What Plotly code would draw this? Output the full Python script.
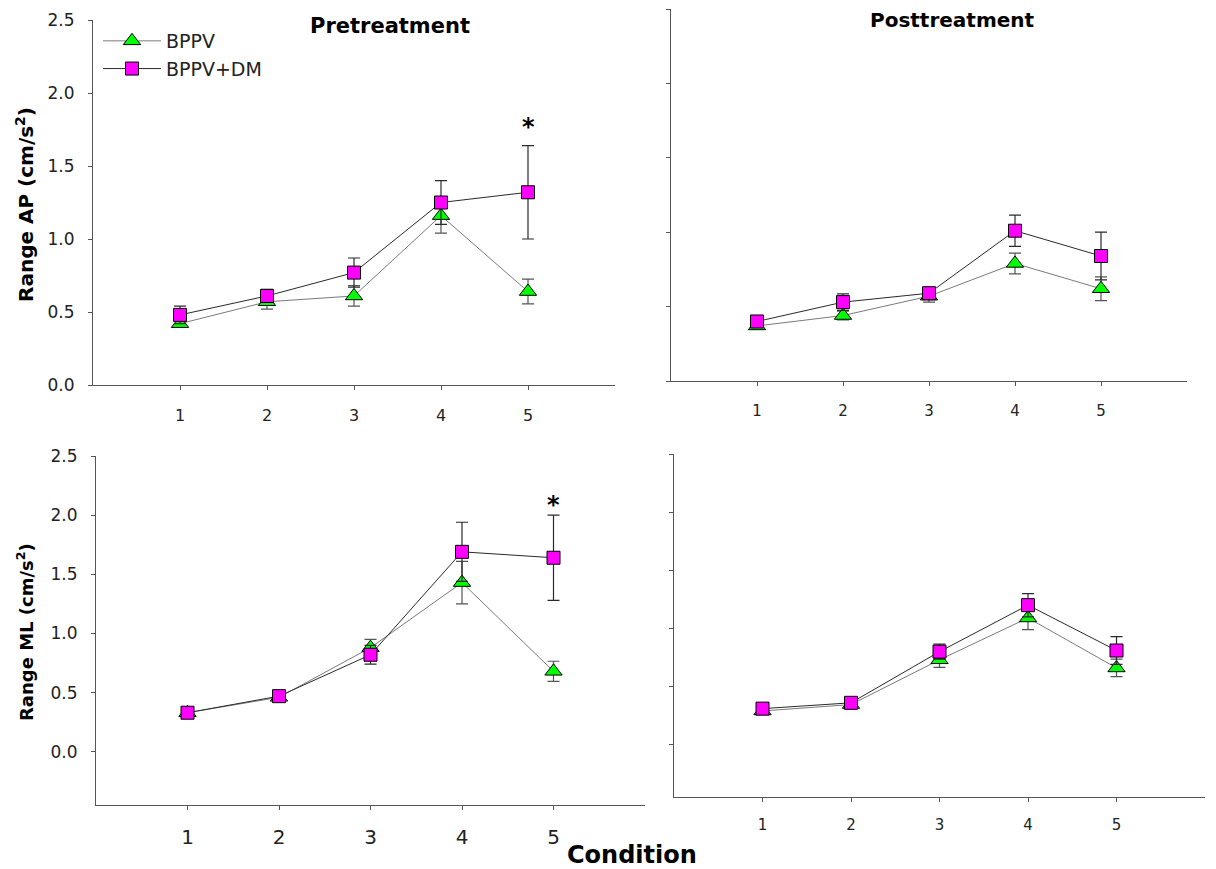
import plotly.graph_objects as go

conditions = [1, 2, 3, 4, 5]

pre_ap_bppv = [0.42, 0.57, 0.61, 1.16, 0.64]
pre_ap_bppv_err = [0.02, 0.05, 0.07, 0.12, 0.085]
pre_ap_dm = [0.48, 0.61, 0.77, 1.25, 1.32]
pre_ap_dm_err = [0.06, 0.045, 0.10, 0.15, 0.32]

post_ap_bppv = [0.37, 0.44, 0.57, 0.79, 0.62]
post_ap_bppv_err = [0.02, 0.03, 0.04, 0.07, 0.08]
post_ap_dm = [0.40, 0.53, 0.59, 1.01, 0.84]
post_ap_dm_err = [0.03, 0.055, 0.03, 0.105, 0.16]

pre_ml_bppv = [0.33, 0.46, 0.88, 1.43, 0.68]
pre_ml_bppv_err = [0.03, 0.03, 0.07, 0.18, 0.085]
pre_ml_dm = [0.33, 0.47, 0.82, 1.69, 1.64]
pre_ml_dm_err = [0.02, 0.04, 0.08, 0.25, 0.36]

post_ml_bppv = [0.29, 0.345, 0.73, 1.09, 0.66]
post_ml_bppv_err = [0.02, 0.02, 0.065, 0.10, 0.075]
post_ml_dm = [0.31, 0.36, 0.80, 1.20, 0.81]
post_ml_dm_err = [0.02, 0.02, 0.065, 0.10, 0.12]

y_ticks = [0.0, 0.5, 1.0, 1.5, 2.0, 2.5]
y_tick_labels = ["0.0", "0.5", "1.0", "1.5", "2.0", "2.5"]

W, H = 1216, 869
FONT = "DejaVu Sans, Liberation Sans, Arial, sans-serif"


def px_x(p):
    return p / W


def px_y(p):
    return 1 - p / H


fig = go.Figure()

panels = [
    ("x", "y", pre_ap_bppv, pre_ap_bppv_err, pre_ap_dm, pre_ap_dm_err, True),
    ("x2", "y2", post_ap_bppv, post_ap_bppv_err, post_ap_dm, post_ap_dm_err, False),
    ("x3", "y3", pre_ml_bppv, pre_ml_bppv_err, pre_ml_dm, pre_ml_dm_err, False),
    ("x4", "y4", post_ml_bppv, post_ml_bppv_err, post_ml_dm, post_ml_dm_err, False),
]

for xa, ya, b, be, d, de, show in panels:
    fig.add_trace(go.Scatter(
        x=conditions, y=b, xaxis=xa, yaxis=ya, name="BPPV", mode="lines+markers",
        line=dict(color="#7a7a7a", width=1),
        marker=dict(symbol="triangle-up", size=15, color="#00ff00",
                    line=dict(color="black", width=1)),
        error_y=dict(type="data", array=be, visible=True, color="#555555",
                     thickness=1.2, width=6),
        showlegend=show, legendrank=1,
    ))
    fig.add_trace(go.Scatter(
        x=conditions, y=d, xaxis=xa, yaxis=ya, name="BPPV+DM", mode="lines+markers",
        line=dict(color="#2a2a2a", width=1),
        marker=dict(symbol="square", size=13, color="#ff00ff",
                    line=dict(color="black", width=1)),
        error_y=dict(type="data", array=de, visible=True, color="#2a2a2a",
                     thickness=1.2, width=6),
        showlegend=show, legendrank=2,
    ))

axis_common = dict(showgrid=False, zeroline=False, showline=True, linecolor="#555555",
                   linewidth=1, ticks="outside", ticklen=4, tickcolor="#555555",
                   mirror=False, automargin=False)

layout = dict(
    width=W, height=H, margin=dict(l=0, r=0, t=0, b=0, autoexpand=False),
    paper_bgcolor="white", plot_bgcolor="white",
    font=dict(family=FONT, color="black"),
    showlegend=True,
    legend=dict(x=px_x(98), y=px_y(22), xanchor="left", yanchor="top",
                font=dict(size=19, family=FONT, color="#222"),
                bgcolor="rgba(0,0,0,0)", tracegroupgap=0, itemwidth=58),
)

# top-left
layout["xaxis"] = dict(axis_common, domain=[px_x(93), px_x(615)], range=[0, 6],
                       anchor="y", tickvals=conditions, ticklabelstandoff=12,
                       tickfont=dict(size=16, family=FONT, color="#222"))
layout["yaxis"] = dict(axis_common, domain=[px_y(385), px_y(20)], range=[0, 2.5],
                       anchor="x", tickvals=y_ticks, ticktext=y_tick_labels,
                       ticklabelstandoff=10,
                       tickfont=dict(size=17, family=FONT, color="#222"))
# top-right
layout["xaxis2"] = dict(axis_common, domain=[px_x(671), px_x(1187)], range=[0, 6],
                        anchor="y2", tickvals=conditions, ticklabelstandoff=12,
                        tickfont=dict(size=15, family=FONT, color="#222"))
layout["yaxis2"] = dict(axis_common, domain=[px_y(381), px_y(9)], range=[0, 2.5],
                        anchor="x2", tickvals=y_ticks, showticklabels=False)
# bottom-left
layout["xaxis3"] = dict(axis_common, domain=[px_x(96), px_x(645)], range=[0, 6],
                        anchor="y3", tickvals=conditions, ticklabelstandoff=10,
                        tickfont=dict(size=20, family=FONT, color="#222"))
layout["yaxis3"] = dict(axis_common, domain=[px_y(805), px_y(456)], range=[-0.45, 2.5],
                        anchor="x3", tickvals=y_ticks, ticktext=y_tick_labels,
                        ticklabelstandoff=10,
                        tickfont=dict(size=17, family=FONT, color="#222"))
# bottom-right
layout["xaxis4"] = dict(axis_common, domain=[px_x(674), px_x(1205)], range=[0, 6],
                        anchor="y4", tickvals=conditions, ticklabelstandoff=10,
                        tickfont=dict(size=15, family=FONT, color="#222"))
layout["yaxis4"] = dict(axis_common, domain=[px_y(797), px_y(454)], range=[-0.45, 2.5],
                        anchor="x4", tickvals=y_ticks, showticklabels=False)

layout["annotations"] = [
    dict(text="<b>Pretreatment</b>", x=px_x(390), y=px_y(26), xref="paper", yref="paper",
         xanchor="center", yanchor="middle", showarrow=False,
         font=dict(size=21, family=FONT)),
    dict(text="<b>Posttreatment</b>", x=px_x(952), y=px_y(20), xref="paper", yref="paper",
         xanchor="center", yanchor="middle", showarrow=False,
         font=dict(size=20, family=FONT)),
    dict(text="<b>Condition</b>", x=px_x(632), y=px_y(855), xref="paper", yref="paper",
         xanchor="center", yanchor="middle", showarrow=False,
         font=dict(size=24, family=FONT)),
    dict(text="<b>Range AP (cm/s<sup>2</sup>)</b>", x=px_x(25), y=px_y(205),
         xref="paper", yref="paper", xanchor="center", yanchor="middle",
         textangle=-90, showarrow=False, font=dict(size=20, family=FONT)),
    dict(text="<b>Range ML (cm/s<sup>2</sup>)</b>", x=px_x(25), y=px_y(632),
         xref="paper", yref="paper", xanchor="center", yanchor="middle",
         textangle=-90, showarrow=False, font=dict(size=18, family=FONT)),
    dict(text="<b>*</b>", x=5, y=1.80, xref="x", yref="y", showarrow=False,
         xanchor="center", yanchor="middle", yshift=-5,
         font=dict(size=24, family=FONT)),
    dict(text="<b>*</b>", x=5, y=2.13, xref="x3", yref="y3", showarrow=False,
         xanchor="center", yanchor="middle", yshift=-5,
         font=dict(size=24, family=FONT)),
]

fig.update_layout(**layout)
fig.write_html("out.html", config={"displayModeBar": False},
               post_script="document.body.style.margin='0';document.body.style.overflow='hidden';")
